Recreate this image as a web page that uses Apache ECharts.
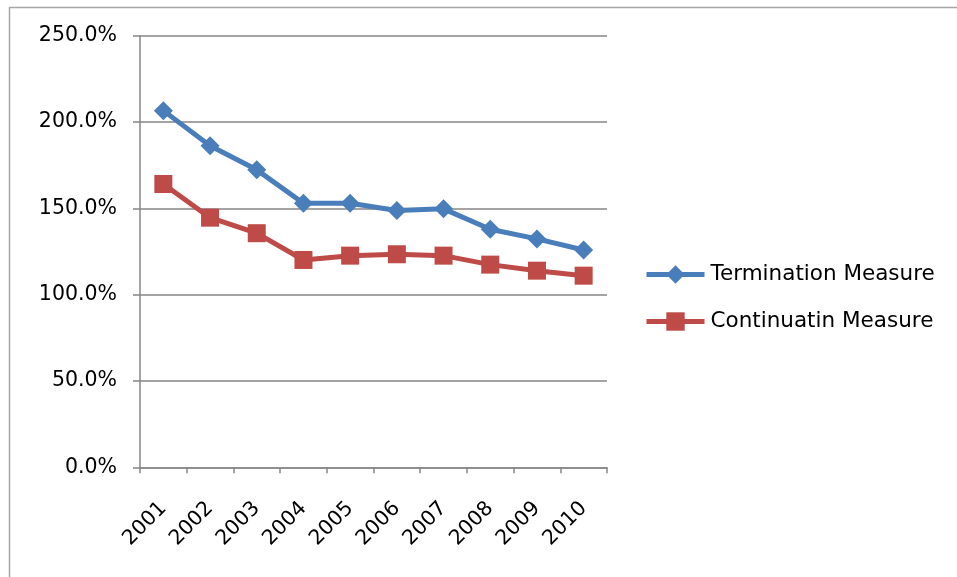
<!DOCTYPE html>
<html>
<head>
<meta charset="utf-8">
<style>
  html, body { margin: 0; padding: 0; background: #ffffff; }
  #chart { width: 957px; height: 577px; }
</style>
<script src="https://cdn.jsdelivr.net/npm/echarts@6/dist/echarts.min.js"></script>
</head>
<body>
<div id="chart"></div>
<script>
// Years on the category axis
const years = ['2001', '2002', '2003', '2004', '2005', '2006', '2007', '2008', '2009', '2010'];

// Ratios in percent
const terminationMeasure = [206.6, 186.2, 172.3, 153.0, 153.0, 148.7, 149.7, 137.9, 132.3, 125.9];
const continuatinMeasure = [164.1, 144.6, 135.6, 120.1, 122.6, 123.4, 122.6, 117.4, 113.9, 111.0];

// Value axis ticks
const yTicks = [0, 50, 100, 150, 200, 250];

const FONT = 'DejaVu Sans';
const AXIS_GRAY = '#868686';
const BLUE = '#4a7ebb';
const RED = '#be4b48';

const chart = echarts.init(document.getElementById('chart'), null, { renderer: 'canvas' });

chart.setOption({
  backgroundColor: '#ffffff',
  animation: false,
  graphic: [{
    type: 'rect',
    shape: { x: 9.5, y: 7.5, width: 1000, height: 700 },
    style: { fill: 'none', stroke: '#a6a6a6', lineWidth: 1.5 },
    silent: true,
    z: -1
  }],
  grid: { left: 140, right: 350, top: 35.7, bottom: 109.7, containLabel: false },
  legend: {
    orient: 'vertical',
    left: 644,
    top: 263.5,
    padding: 0,
    itemWidth: 58,
    itemHeight: 23,
    itemGap: 25,
    lineStyle: { width: 5 },
    textStyle: { fontFamily: FONT, fontSize: 21.5, color: '#000000', padding: [0, 0, 0, 1] },
    data: ['Termination Measure', 'Continuatin Measure']
  },
  xAxis: {
    type: 'category',
    data: years,
    boundaryGap: true,
    axisLine: { lineStyle: { color: AXIS_GRAY, width: 1.5 } },
    axisTick: { show: true, interval: 0, length: 6, lineStyle: { color: AXIS_GRAY, width: 1.5 } },
    axisLabel: { interval: 0, rotate: 45, margin: 38, fontFamily: FONT, fontSize: 20.5, color: '#000000' },
    splitLine: { show: false }
  },
  yAxis: {
    type: 'value',
    min: yTicks[0],
    max: yTicks[yTicks.length - 1],
    interval: yTicks[1] - yTicks[0],
    axisLine: { show: true, lineStyle: { color: AXIS_GRAY, width: 1.5 } },
    axisTick: { show: true, length: 7, lineStyle: { color: AXIS_GRAY, width: 1.5 } },
    axisLabel: {
      margin: 23,
      fontFamily: FONT,
      fontSize: 20.5,
      color: '#000000',
      formatter: v => v.toFixed(1) + '%'
    },
    splitLine: { show: true, lineStyle: { color: AXIS_GRAY, width: 1.5 } }
  },
  series: [
    {
      name: 'Termination Measure',
      type: 'line',
      data: terminationMeasure,
      symbol: 'diamond',
      symbolSize: 19,
      lineStyle: { color: BLUE, width: 5 },
      itemStyle: { color: BLUE },
      z: 3
    },
    {
      name: 'Continuatin Measure',
      type: 'line',
      data: continuatinMeasure,
      symbol: 'rect',
      symbolSize: 18,
      lineStyle: { color: RED, width: 5 },
      itemStyle: { color: RED },
      z: 2
    }
  ]
});
</script>
</body>
</html>
